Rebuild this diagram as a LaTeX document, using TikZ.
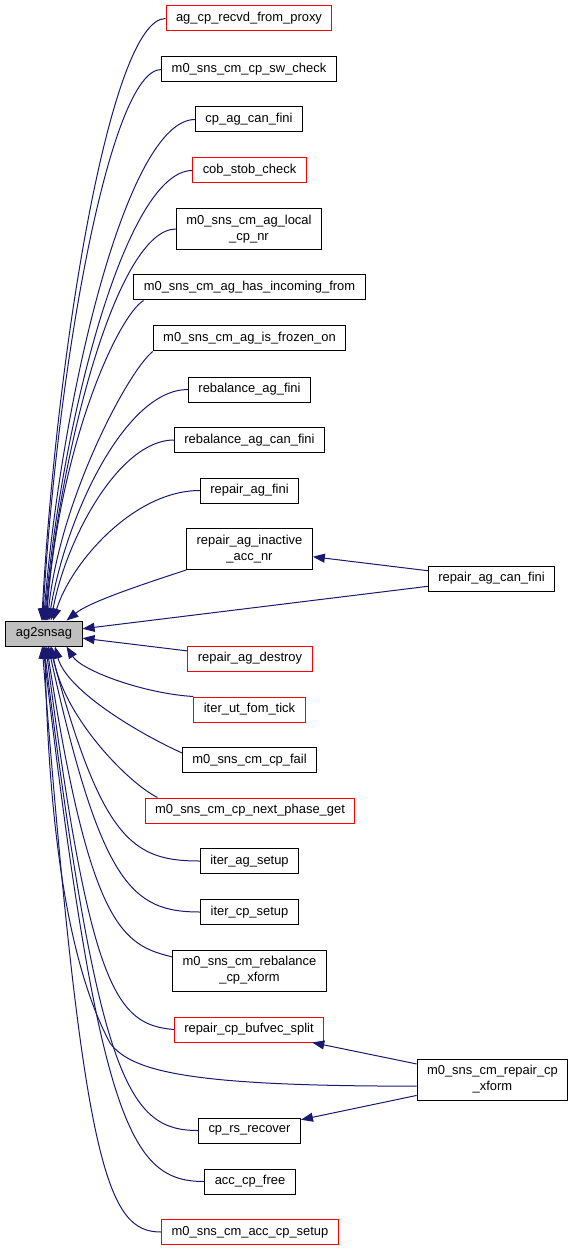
\documentclass[tikz,border=0pt]{standalone}
\usepackage{fontspec}
\setmainfont{Liberation Sans}
\usepackage{tikz}
\usetikzlibrary{arrows.meta}
\definecolor{cgblue}{HTML}{191970}
\definecolor{cgred}{HTML}{FF0000}
\definecolor{cggrey}{HTML}{BFBFBF}
\tikzset{
  fn/.style   ={draw=black, fill=white, line width=0.75pt, inner xsep=7.5pt,
                inner ysep=0pt, minimum height=18.75pt,
                font=\fontsize{9.7}{12}\selectfont},
  fnred/.style={fn, draw=cgred},
  fntwo/.style={fn, align=center, minimum height=30.75pt},
  fnsel/.style={fn, fill=cggrey},
  call/.style ={-{Triangle[length=9pt,width=6.75pt]}, draw=cgblue,
                line width=0.75pt},
}

\begin{document}
\begin{tikzpicture}[x=0.75pt, y=-0.75pt]
  \useasboundingbox (0,0) rectangle (573,1251);

  \node[fnsel] (ag) at (44,633.5) {ag2snsag};

  \node[fnred] (proxy)     at (249,18.5)   {ag\_cp\_recvd\_from\_proxy};
  \node[fn]    (swcheck)   at (249,69.5)   {m0\_sns\_cm\_cp\_sw\_check};
  \node[fn]    (canfini)   at (249,119.5)  {cp\_ag\_can\_fini};
  \node[fnred] (stob)      at (249.5,170.5){cob\_stob\_check};
  \node[fntwo] (localnr)   at (249,229)    {m0\_sns\_cm\_ag\_local\\\_cp\_nr};
  \node[fn]    (incoming)  at (249.5,287.5){m0\_sns\_cm\_ag\_has\_incoming\_from};
  \node[fn]    (frozen)    at (249.5,338.5){m0\_sns\_cm\_ag\_is\_frozen\_on};
  \node[fn]    (rbfini)    at (249.5,389.5){rebalance\_ag\_fini};
  \node[fn]    (rbcanfini) at (249.5,440)  {rebalance\_ag\_can\_fini};
  \node[fn]    (rpfini)    at (249.5,490.5){repair\_ag\_fini};
  \node[fntwo] (inactive)  at (249.5,549)  {repair\_ag\_inactive\\\_acc\_nr};
  \node[fn]    (rpcanfini) at (491.5,578.5){repair\_ag\_can\_fini};

  \node[fnred] (destroy)   at (250,658.5)  {repair\_ag\_destroy};
  \node[fnred] (fomtick)   at (249.5,709.5){iter\_ut\_fom\_tick};
  \node[fn]    (cpfail)    at (249.5,760)  {m0\_sns\_cm\_cp\_fail};
  \node[fnred] (nextphase) at (250,810.5)  {m0\_sns\_cm\_cp\_next\_phase\_get};
  \node[fn]    (agsetup)   at (249.5,861)  {iter\_ag\_setup};
  \node[fn]    (cpsetup)   at (249.5,912)  {iter\_cp\_setup};
  \node[fntwo] (rbxform)   at (249.5,970.5){m0\_sns\_cm\_rebalance\\\_cp\_xform};
  \node[fnred] (bufvec)    at (249,1029.5) {repair\_cp\_bufvec\_split};
  \node[fntwo] (rpxform)   at (492.5,1079.5){m0\_sns\_cm\_repair\_cp\\\_xform};
  \node[fn]    (rsrecover) at (249.5,1130.5){cp\_rs\_recover};
  \node[fn]    (accfree)   at (250,1181.5) {acc\_cp\_free};
  \node[fnred] (accsetup)  at (250,1232)   {m0\_sns\_cm\_acc\_cp\_setup};
  \coordinate (xbend) at (110,1043);

  \draw[call] (proxy.west) .. controls +(-55,0) and +(15,-271) .. (ag.100);
  \draw[call] (swcheck.west) .. controls +(-52,0) and +(14,-248) .. (ag.96);
  \draw[call] (canfini.west) .. controls +(-68,0) and +(18,-225) .. (ag.92);
  \draw[call] (stob.west) .. controls +(-66,0) and +(18,-203) .. (ag.88);
  \draw[call] (localnr.west) .. controls +(-58,0) and +(16,-176) .. (ag.84);
  \draw[call] (incoming.187) .. controls +(-25,15) and +(14,-180) .. (ag.80);
  \draw[call] (frozen.south west) .. controls +(-25,20) and +(12,-120) .. (ag.75);
  \draw[call] (rbfini.west) .. controls +(-63,0) and +(17,-104) .. (ag.70);
  \draw[call] (rbcanfini.west) .. controls +(-55,0) and +(15,-81) .. (ag.62);
  \draw[call] (rpfini.west) .. controls +(-66,0) and +(18,-58) .. (ag.55);
  \draw[call] (inactive.south west) .. controls +(-30,10) and +(25,-20) .. (ag.30);
  \draw[call] (rpcanfini) -- (inactive);
  \draw[call] (rpcanfini) -- (ag);

  \draw[call] (destroy) -- (ag);
  \draw[call] (fomtick.north west) .. controls +(-50,-3) and +(15,24) .. (ag.-30);
  \draw[call] (cpfail.174) .. controls +(-40,-18) and +(12,45) .. (ag.-50);
  \draw[call] (nextphase.172) .. controls +(-30,-15) and +(12,70) .. (ag.-60);
  \draw[call] (agsetup.west) .. controls +(-67,0) and +(52,194) .. (ag.-66);
  \draw[call] (cpsetup.west) .. controls +(-68,0) and +(53,239) .. (ag.-72);
  \draw[call] (rbxform.170) .. controls +(-50,-12) and +(43,280) .. (ag.-78);
  \draw[call] (bufvec.west) .. controls +(-57,-5) and +(44,345) .. (ag.-82);
  \draw[call] (rpxform) -- (bufvec);
  \draw[call] (rpxform.185) .. controls +(-220,0) and +(22,30) .. (xbend)
    .. controls +(-25,-47) and +(5,250) .. (ag.-86);
  \draw[call] (rpxform) -- (rsrecover);
  \draw[call] (rsrecover.west) .. controls +(-69,0) and +(54,436) .. (ag.-90);
  \draw[call] (accfree.west) .. controls +(-72,0) and +(56,482) .. (ag.-94);
  \draw[call] (accsetup.west) .. controls +(-53,0) and +(41,527) .. (ag.-98);
\end{tikzpicture}
\end{document}
